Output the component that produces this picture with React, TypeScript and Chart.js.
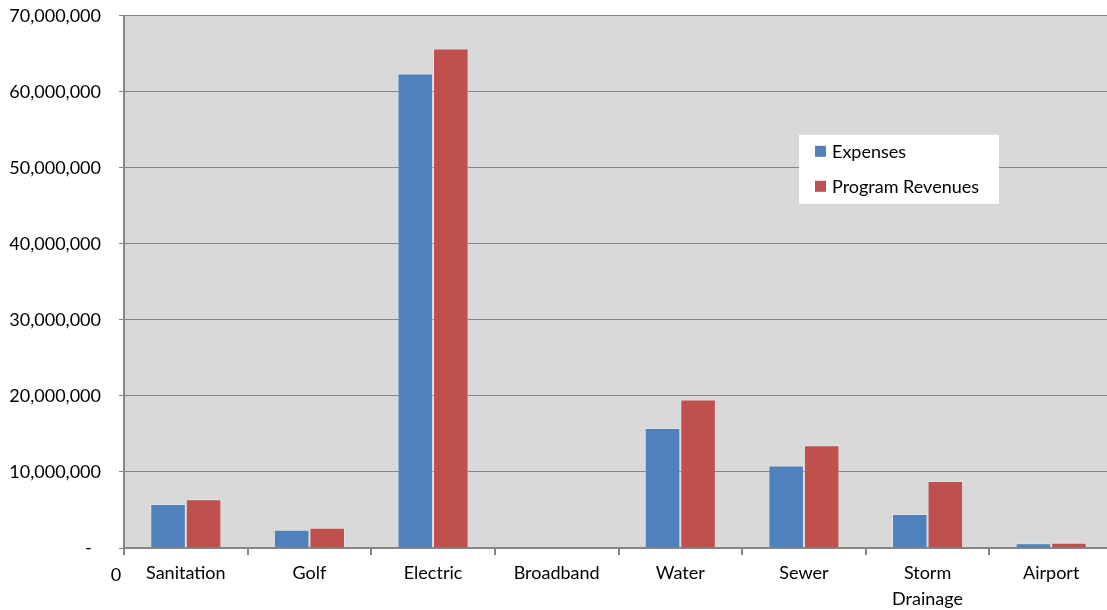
import React, { useEffect, useRef } from "react";
import { Chart, registerables } from "chart.js";

Chart.register(...registerables);

const categories = ["Sanitation", "Golf", "Electric", "Broadband", "Water", "Sewer", "Storm Drainage", "Airport"];
const expenses = [5780000, 2400000, 62400000, 0, 15770000, 10860000, 4470000, 620000];
const programRevenues = [6400000, 2670000, 65700000, 0, 19540000, 13500000, 8800000, 700000];
const seriesNames = ["Expenses", "Program Revenues"];
const seriesColors = ["#4f81bd", "#c0504d"];
const yMax = 70000000;
const yStep = 10000000;

const FONT = "Lato, 'Open Sans', sans-serif";

const bgPlugin = {
  id: "plotBg",
  beforeDraw(chart: any) {
    const { ctx, chartArea } = chart;
    ctx.save();
    ctx.fillStyle = "#d9d9d9";
    ctx.fillRect(chartArea.left, chartArea.top, chartArea.right - chartArea.left, chartArea.bottom - chartArea.top);
    ctx.restore();
  },
};

const extrasPlugin = {
  id: "extras",
  afterDraw(chart: any) {
    const { ctx, chartArea } = chart;
    ctx.save();
    // stray "0" label at bottom-left
    ctx.font = `18px ${FONT}`;
    ctx.fillStyle = "#000";
    ctx.textAlign = "center";
    ctx.textBaseline = "middle";
    ctx.fillText("0", chartArea.left - 8, chartArea.bottom + 27);

    // legend box
    const bx = chartArea.left + 675;
    const by = chartArea.top + 119;
    const bw = 200;
    const bh = 69;
    ctx.fillStyle = "#ffffff";
    ctx.fillRect(bx, by, bw, bh);
    ctx.textAlign = "left";
    chart.data.datasets.forEach((ds: any, i: number) => {
      const cy = by + 17 + i * 35;
      ctx.fillStyle = ds.backgroundColor;
      ctx.fillRect(bx + 16, cy - 6, 11, 11);
      ctx.fillStyle = "#000";
      ctx.fillText(ds.label, bx + 33, cy);
    });
    ctx.restore();
  },
};

export default function App() {
  const canvasRef = useRef<HTMLCanvasElement | null>(null);

  useEffect(() => {
    if (!canvasRef.current) return;
    const labels = categories.map((c) => (c === "Storm Drainage" ? c.split(" ") : c));
    const chart = new Chart(canvasRef.current, {
      type: "bar",
      data: {
        labels,
        datasets: [
          {
            label: seriesNames[0],
            data: expenses,
            backgroundColor: seriesColors[0],
            borderColor: "rgba(255,255,255,0.25)",
            borderWidth: 1,
            categoryPercentage: 0.575,
            barPercentage: 1,
          },
          {
            label: seriesNames[1],
            data: programRevenues,
            backgroundColor: seriesColors[1],
            borderColor: "rgba(255,255,255,0.25)",
            borderWidth: 1,
            categoryPercentage: 0.575,
            barPercentage: 1,
          },
        ],
      },
      options: {
        animation: false,
        responsive: false,
        maintainAspectRatio: false,
        layout: { padding: { top: 2, right: 0, left: 0, bottom: 0 } },
        plugins: {
          legend: { display: false },
          tooltip: { enabled: false },
        },
        scales: {
          x: {
            offset: true,
            grid: {
              offset: true,
              drawOnChartArea: false,
              drawTicks: true,
              tickLength: 7,
              color: "#868686",
              lineWidth: 2,
            },
            border: { color: "#868686", width: 2 },
            ticks: {
              color: "#000",
              font: { family: FONT, size: 18, lineHeight: 1.4 },
              padding: 6,
              maxRotation: 0,
              autoSkip: false,
            },
            afterFit(scale: any) {
              scale.height = 62;
            },
          },
          y: {
            min: 0,
            max: yMax,
            grid: {
              color: "#868686",
              lineWidth: 1,
              drawTicks: true,
              tickLength: 5,
            },
            border: { color: "#868686", width: 2 },
            ticks: {
              stepSize: yStep,
              color: "#000",
              padding: 18,
              font: { family: FONT, size: 18 },
              callback: (v: any) => (Number(v) === 0 ? "-  " : Number(v).toLocaleString("en-US")),
            },
            afterFit(scale: any) {
              scale.width = 124;
            },
          },
        },
      },
      plugins: [bgPlugin, extrasPlugin],
    });
    return () => chart.destroy();
  }, []);

  return (
    <div style={{ position: "fixed", left: 0, top: 0, width: 1107, height: 610, background: "#fff", overflow: "hidden" }}>
      <canvas
        ref={canvasRef}
        width={1113}
        height={623}
        style={{ display: "block", position: "absolute", left: 0, top: -13, width: 1113, height: 623 }}
      />
    </div>
  );
}
